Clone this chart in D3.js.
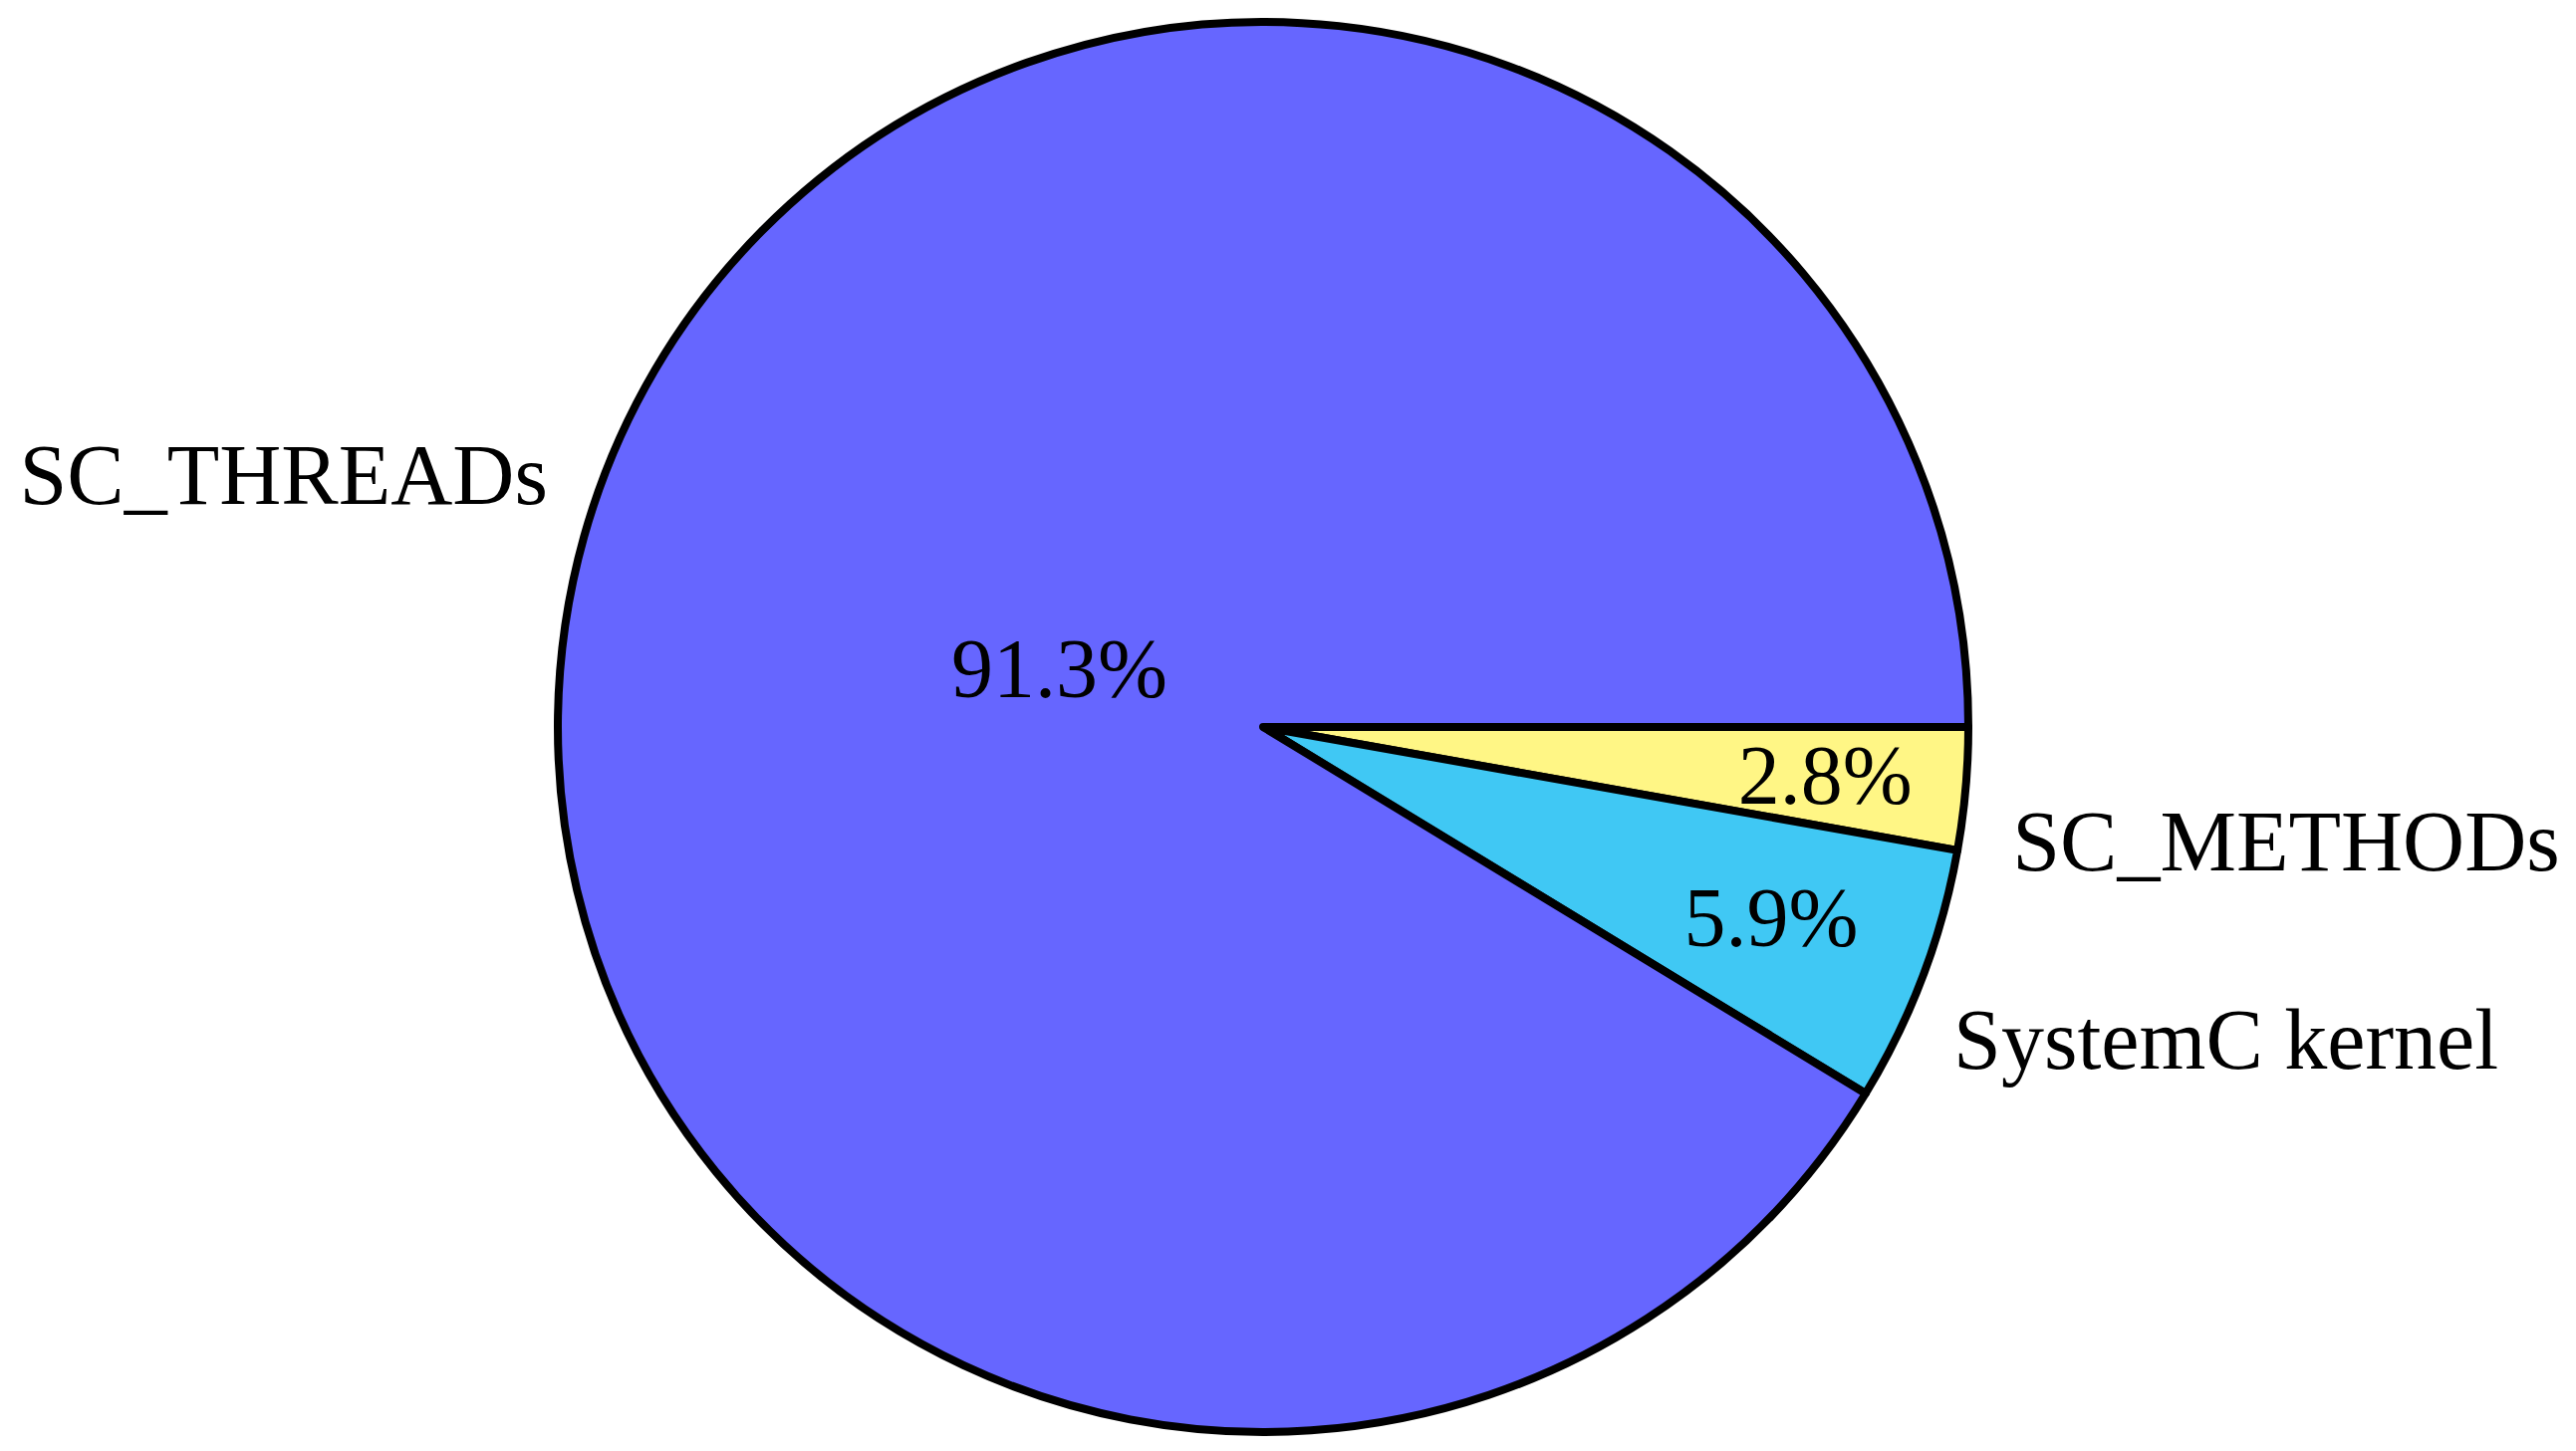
<!DOCTYPE html>
<html>
<head>
<meta charset="utf-8">
<script src="https://cdn.jsdelivr.net/npm/d3@7"></script>
<style>
  html, body { margin: 0; padding: 0; background: #fff; }
  text { font-family: "Liberation Serif", "DejaVu Serif", serif; fill: #000; }
</style>
</head>
<body>
<svg id="chart"></svg>
<script>
// slices in clockwise order starting at 3 o'clock
var categories = ["SC_METHODs", "SystemC kernel", "SC_THREADs"];
var values = [2.8, 5.9, 91.3];
var sliceColors = ["#fff685", "#40c8f4", "#6666ff"];

var width = 2586, height = 1457;
var cx = 1268, cy = 730, radius = 708;

// how far in the percentage sits for each slice (fraction of radius)
var pctDist = [0.8, 0.77, 0.3];
var labelDist = 1.075;
var labelShift = 3.7 * Math.PI / 180;

var svg = d3.select('#chart')
  .attr('width', width)
  .attr('height', height);

var g = svg.append('g')
  .attr('transform', 'translate(' + cx + ',' + cy + ')');

var table = categories.map(function(c, i) {
  return { name: c, value: values[i], color: sliceColors[i], idx: i };
});

var pie = d3.pie()
  .sort(null)
  .value(function(d) { return d.value; })
  .startAngle(Math.PI / 2)
  .endAngle(Math.PI / 2 + 2 * Math.PI);

var arc = d3.arc().innerRadius(0).outerRadius(radius);

var arcs = pie(table);

g.selectAll('path.slice')
  .data(arcs)
  .enter()
  .append('path')
    .attr('class', 'slice')
    .attr('d', arc)
    .attr('fill', function(d) { return d.data.color; })
    .attr('stroke', '#000')
    .attr('stroke-width', 8)
    .attr('stroke-linejoin', 'round');

function polar(a, r) {
  return [Math.sin(a) * r, -Math.cos(a) * r];
}

// percentages inside the slices
g.selectAll('text.pct')
  .data(arcs)
  .enter()
  .append('text')
    .attr('class', 'pct')
    .attr('transform', function(d) {
      var mid = (d.startAngle + d.endAngle) / 2;
      var p = polar(mid, radius * pctDist[d.data.idx]);
      return 'translate(' + p[0] + ',' + p[1] + ')';
    })
    .attr('text-anchor', 'middle')
    .attr('dy', '0.33em')
    .style('font-size', '84px')
    .text(function(d) { return d.data.value.toFixed(1) + '%'; });

// category names outside
g.selectAll('text.name')
  .data(arcs)
  .enter()
  .append('text')
    .attr('class', 'name')
    .attr('transform', function(d) {
      var mid = (d.startAngle + d.endAngle) / 2 + labelShift;
      var p = polar(mid, radius * labelDist);
      return 'translate(' + p[0] + ',' + p[1] + ')';
    })
    .attr('text-anchor', function(d) {
      var mid = (d.startAngle + d.endAngle) / 2 + labelShift;
      return Math.sin(mid) >= 0 ? 'start' : 'end';
    })
    .attr('dy', '0.33em')
    .style('font-size', '86px')
    .text(function(d) { return d.data.name; });
</script>
</body>
</html>
